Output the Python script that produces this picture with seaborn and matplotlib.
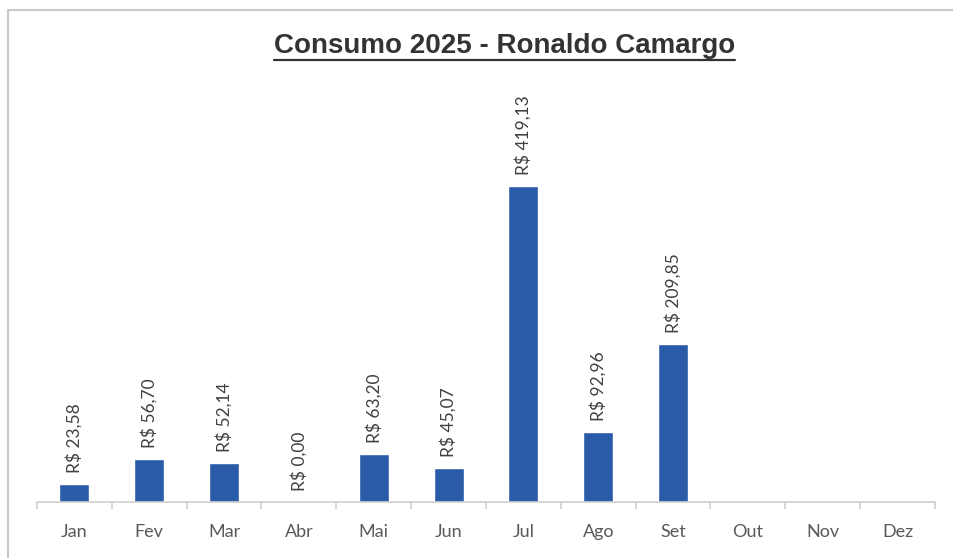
import numpy as np
import matplotlib
matplotlib.use("Agg")
import matplotlib.pyplot as plt
import seaborn as sns
from matplotlib.lines import Line2D

# Monthly consumption values (R$)
months = ["Jan", "Fev", "Mar", "Abr", "Mai", "Jun", "Jul", "Ago", "Set", "Out", "Nov", "Dez"]
values = [23.58, 56.70, 52.14, 0.00, 63.20, 45.07, 419.13, 92.96, 209.85, None, None, None]
labels = ["R$ 23,58", "R$ 56,70", "R$ 52,14", "R$ 0,00", "R$ 63,20", "R$ 45,07",
          "R$ 419,13", "R$ 92,96", "R$ 209,85", "", "", ""]

sns.set_style("white")
plt.rcParams["font.family"] = ["Lato", "DejaVu Sans"]

fig = plt.figure(figsize=(9.54, 5.58), dpi=100)
ax = fig.add_axes([0.0388, 0.1004, 0.9412, 0.7566])

plot_vals = [v if v is not None else 0 for v in values]
sns.barplot(x=months, y=plot_vals, color="#2a5ba8", saturation=1, width=0.4, ax=ax)

ax.set_ylim(0, 560)
ax.set_xlim(-0.5, 11.5)

# data labels
for i, (v, lab) in enumerate(zip(plot_vals, labels)):
    if lab:
        ax.annotate(lab, (i, v), xytext=(0, 8), textcoords="offset points",
                    rotation=90, ha="center", va="bottom", fontsize=12.5, color="#404040")

# axes styling
for s in ["top", "right", "left"]:
    ax.spines[s].set_visible(False)
ax.spines["bottom"].set_color("#cfcfcf")
ax.spines["bottom"].set_linewidth(1.2)
ax.set_yticks([])
ax.set_xticks(np.arange(12))
ax.set_xticklabels(months, fontsize=13, color="#595959")
ax.tick_params(axis="x", length=0, pad=16)
ax.set_xticks(np.arange(-0.5, 12, 1), minor=True)
ax.tick_params(axis="x", which="minor", bottom=True, length=5, color="#cfcfcf", width=1.2,
               direction="out")
ax.set_xlabel("")
ax.set_ylabel("")

# chart frame (top and left edges)
fig.add_artist(Line2D([8 / 954, 1.0], [1 - 10 / 558, 1 - 10 / 558], color="#c8c8c8", lw=1.5))
fig.add_artist(Line2D([8 / 954, 8 / 954], [0, 1 - 10 / 558], color="#c8c8c8", lw=1.5))

# underlined title
title = fig.text(0.5285, 1 - 53 / 558, "Consumo 2025 - Ronaldo Camargo", ha="center", va="baseline",
                 fontsize=20, fontweight="bold", color="#333333", family="Liberation Sans")
fig.canvas.draw()
bb = title.get_window_extent().transformed(fig.transFigure.inverted())
uy = 1 - 60 / 558
fig.add_artist(Line2D([bb.x0, bb.x1], [uy, uy], color="#333333", lw=1.6))

fig.savefig("out.png", dpi=100)
